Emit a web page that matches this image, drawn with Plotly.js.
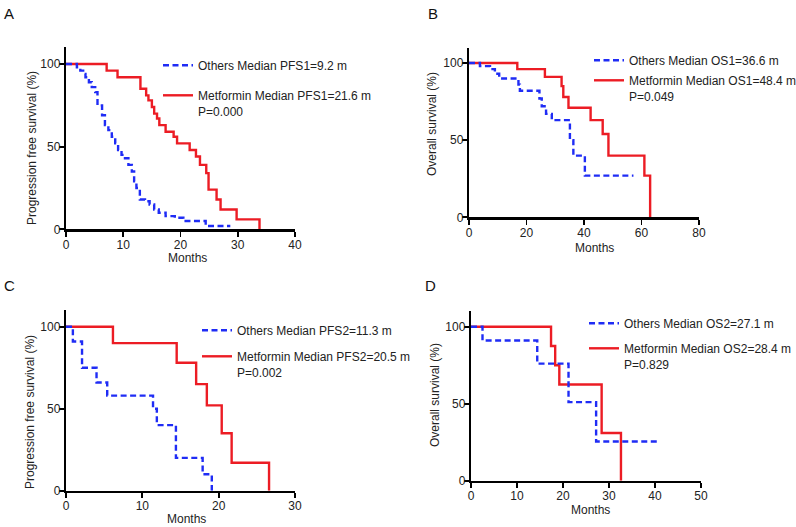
<!DOCTYPE html>
<html><head><meta charset="utf-8">
<script src="https://cdn.plot.ly/plotly-3.0.1.min.js"></script>
<style>html,body{margin:0;padding:0;background:#fff;overflow:hidden;width:796px;height:527px}#chart{width:796px;height:527px;overflow:hidden}</style>
</head><body><div id="chart"></div>
<script>
// Panel A: PFS1
const aOthersT = [0, 1.9, 2.5, 3.0, 3.4, 4.0, 4.5, 5.1, 5.5, 6.3, 6.8, 7.4, 8.0, 8.6, 9.1, 9.7, 10.3, 10.9, 11.5, 11.9, 12.3, 12.9, 13.8, 14.6, 15.4, 16.2, 17.4, 19.0, 20.5, 24.4, 28.7];
const aOthersS = [100, 98, 96, 94, 92, 89, 86, 83, 75, 69, 63, 60, 56, 52, 48, 45, 43, 39, 35, 29, 25, 18, 17, 15, 12, 10, 8, 7, 5, 2, 2];
const aMetT = [0, 7.1, 9.0, 13.0, 14.0, 14.4, 15.0, 15.4, 15.9, 16.3, 17.4, 18.8, 19.4, 21.6, 22.7, 23.4, 24.5, 24.9, 26.3, 27.0, 29.8, 33.8];
const aMetS = [100, 96, 92, 85, 81, 78, 74, 70, 67, 63, 59, 56, 52, 48, 44, 39, 34, 24, 18, 12, 6, 0];
// Panel B: OS1
const bOthersT = [0, 3.8, 7.3, 9.0, 10.5, 17.2, 17.7, 24.5, 25.3, 26.8, 28.8, 35.1, 36.3, 40.3, 57.2];
const bOthersS = [100, 98, 96, 93, 90, 86, 82, 77, 72, 67, 63, 50, 40, 27, 27];
const bMetT = [0, 16.8, 26.4, 32.2, 32.8, 34.6, 42.3, 46.5, 48.5, 61.0, 63.0];
const bMetS = [100, 96, 91, 85, 78, 71, 63, 54, 40, 27, 0];
// Panel C: PFS2
const cOthersT = [0, 0.9, 2.1, 4.0, 5.4, 11.4, 11.9, 14.4, 17.9, 19.1];
const cOthersS = [100, 91, 75, 66, 58, 50, 40, 20, 10, 0];
const cMetT = [0, 6.15, 14.5, 17.05, 18.45, 20.4, 21.7, 26.6];
const cMetS = [100, 90, 78, 65, 52, 35, 17, 0];
// Panel D: OS2
const dOthersT = [0, 2.5, 14.4, 21.2, 27.2, 41.1];
const dOthersS = [100, 91, 76, 51, 25.5, 25.5];
const dMetT = [0, 17.4, 18.3, 19.2, 28.4, 32.6];
const dMetS = [100, 87.5, 75, 62.5, 31, 0];

const panelLetters = ['A', 'B', 'C', 'D'];
const yTitles = ['Progression free survival (%)', 'Overall survival (%)', 'Progression free survival (%)', 'Overall survival (%)'];
const xTitle = 'Months';
const xMax = [40, 80, 30, 50];
const xDtick = [10, 20, 10, 10];
const yTicks = [0, 50, 100];
const othersNames = ['Others Median PFS1=9.2 m', 'Others Median OS1=36.6 m', 'Others Median PFS2=11.3 m', 'Others Median OS2=27.1 m'];
const metNames = ['Metformin Median PFS1=21.6 m<br>P=0.000', 'Metformin Median OS1=48.4 m<br>P=0.049', 'Metformin Median PFS2=20.5 m<br>P=0.002', 'Metformin Median OS2=28.4 m<br>P=0.829'];

const othersData = [[aOthersT, aOthersS], [bOthersT, bOthersS], [cOthersT, cOthersS], [dOthersT, dOthersS]];
const metData = [[aMetT, aMetS], [bMetT, bMetS], [cMetT, cMetS], [dMetT, dMetS]];

const W = 796, H = 527;
const BLUE = '#1f2cf5', RED = '#ec1c24';
const FONT = 'Liberation Sans, Arial, Helvetica, sans-serif';

// pixel geometry of each panel: [x0px, x1px, y0px(value 0), y100px]
const geo = [[66, 295, 229.3, 64], [469, 699, 217.3, 63], [66, 295, 490.7, 326.7], [471, 701, 480.7, 326.7]];
const legendPos = [[158, 51], [589, 46], [197, 316], [584, 309]];
const legendGap = [11, 1, 7, 6];
const xTitlePos = [[187, 258], [594, 248], [186, 519], [590, 510]];
const yTitlePos = [[32, 148], [432, 124], [30, 412], [435, 395]];
const letterPos = [[2, 3], [426, 3], [2, 275], [423, 275]];

const traces = [];
const layout = {
  width: W, height: H, margin: {l: 0, r: 0, t: 0, b: 0, autoexpand: false},
  paper_bgcolor: '#fff', plot_bgcolor: '#fff',
  font: {family: FONT, size: 12, color: '#222'},
  showlegend: true, annotations: []
};

for (let i = 0; i < 4; i++) {
  const n = i === 0 ? '' : String(i + 1);
  const g = geo[i];
  const topPx = g[2] - (g[2] - g[3]) * 1.1;
  const legName = i === 0 ? 'legend' : 'legend' + n;
  traces.push({
    x: metData[i][0], y: metData[i][1], type: 'scatter', mode: 'lines',
    line: {shape: 'hv', color: RED, width: 2.4},
    name: metNames[i], xaxis: 'x' + n, yaxis: 'y' + n, legend: legName,
    legendgroup: 'm' + i, legendrank: 2, hoverinfo: 'skip'
  });
  traces.push({
    x: othersData[i][0], y: othersData[i][1], type: 'scatter', mode: 'lines',
    line: {shape: 'hv', color: BLUE, width: 2.4, dash: '6px,3.5px'},
    name: othersNames[i], xaxis: 'x' + n, yaxis: 'y' + n, legend: legName,
    legendgroup: 'o' + i, legendrank: 1, hoverinfo: 'skip'
  });
  layout['xaxis' + n] = {
    domain: [g[0] / W, g[1] / W], anchor: 'y' + n,
    range: [0, xMax[i]], tick0: 0, dtick: xDtick[i], showgrid: false, zeroline: false,
    showline: true, linecolor: '#000', linewidth: 2.2,
    ticks: 'outside', ticklen: 5, tickwidth: 1.8, tickcolor: '#000',
    ticklabelstandoff: -2,
    tickfont: {size: 12, color: '#222'}
  };
  layout['yaxis' + n] = {
    domain: [(H - g[2]) / H, (H - topPx) / H], anchor: 'x' + n,
    range: [0, 110], tickvals: yTicks, showgrid: false, zeroline: false,
    showline: true, linecolor: '#000', linewidth: 2.2,
    ticks: 'outside', ticklen: 5, tickwidth: 1.8, tickcolor: '#000',
    ticklabelstandoff: -4,
    tickfont: {size: 12, color: '#222'}
  };
  layout[legName] = {
    x: legendPos[i][0] / W, y: (H - legendPos[i][1]) / H, xanchor: 'left', yanchor: 'top',
    bgcolor: 'rgba(0,0,0,0)', borderwidth: 0, valign: 'top',
    traceorder: 'grouped', tracegroupgap: legendGap[i],
    font: {family: FONT, size: 12, color: '#222'}
  };
  layout.annotations.push({
    text: panelLetters[i], xref: 'paper', yref: 'paper',
    x: letterPos[i][0] / W, y: (H - letterPos[i][1]) / H, xanchor: 'left', yanchor: 'top',
    showarrow: false, font: {family: FONT, size: 15, color: '#111'}
  });
  layout.annotations.push({
    text: xTitle, xref: 'paper', yref: 'paper',
    x: xTitlePos[i][0] / W, y: (H - xTitlePos[i][1]) / H, xanchor: 'center', yanchor: 'middle',
    showarrow: false, font: {family: FONT, size: 12, color: '#222'}
  });
  layout.annotations.push({
    text: yTitles[i], xref: 'paper', yref: 'paper', textangle: -90,
    x: yTitlePos[i][0] / W, y: (H - yTitlePos[i][1]) / H, xanchor: 'center', yanchor: 'middle',
    showarrow: false, font: {family: FONT, size: 12, color: '#222'}
  });
}

Plotly.newPlot('chart', traces, layout, {staticPlot: true, displayModeBar: false});
</script></body></html>
